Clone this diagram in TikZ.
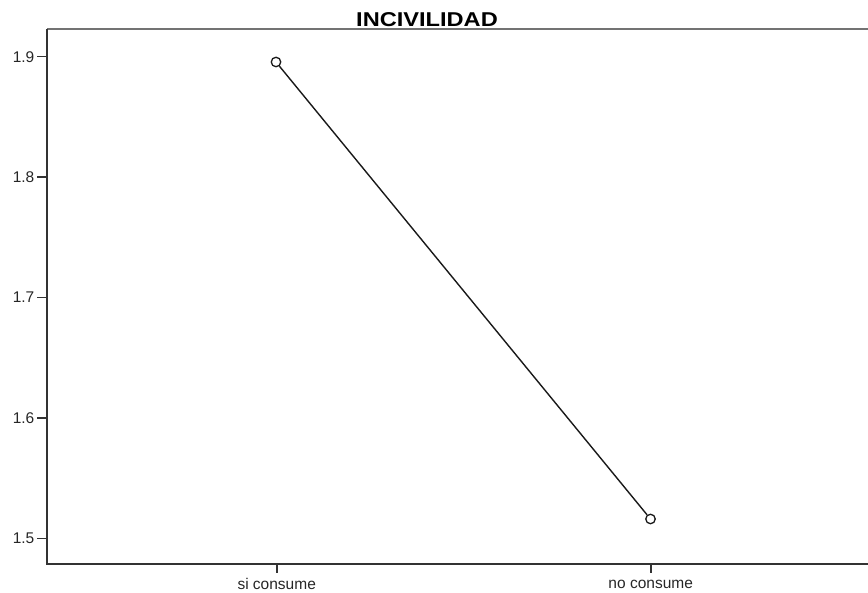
\documentclass[tikz,border=0pt]{standalone}
\usepackage{fontspec}
\setmainfont{Liberation Sans}
\begin{document}
\begin{tikzpicture}[x=1pt,y=-1pt,
  axisline/.style={draw=black!80,line width=1.8pt},
  topline/.style={draw=black!55,line width=1.8pt},
  tickmark/.style={draw=black!80,line width=1.6pt},
  ticklabel/.style={font=\fontsize{15.5}{17}\selectfont,text=black!85,inner sep=0pt},
  datapt/.style={circle,draw=black!90,line width=1.3pt,minimum size=9.5pt,inner sep=0pt},
  dataline/.style={draw=black!90,line width=1.4pt}]
\useasboundingbox (0,0) rectangle (868,593);
% frame
\draw[topline] (47,29) -- (868,29);
\draw[axisline] (47,29) -- (47,564) -- (868,564);
% title
\node[font=\bfseries\fontsize{20}{22}\selectfont,xscale=1.18,inner sep=0pt] (title) at (427,20) {INCIVILIDAD};
% y ticks
\foreach \v/\lab in {0/1.9,1/1.8,2/1.7,3/1.6,4/1.5}{
  \draw[tickmark] (37,56.7+120.4*\v) -- (47,56.7+120.4*\v);
  \node[ticklabel,anchor=east] (y\v) at (34.5,56.7+120.4*\v) {\lab};
}
% x ticks
\draw[tickmark] (276.7,564) -- (276.7,573);
\draw[tickmark] (650.7,564) -- (650.7,573);
\node[ticklabel] (xa) at (276.7,584) {si consume};
\node[ticklabel] (xb) at (650.7,584) {no consume};
% data
\node[datapt] (a) at (276,62) {};
\node[datapt] (b) at (650.5,519) {};
\draw[dataline] (a) -- (b);
\end{tikzpicture}
\end{document}
